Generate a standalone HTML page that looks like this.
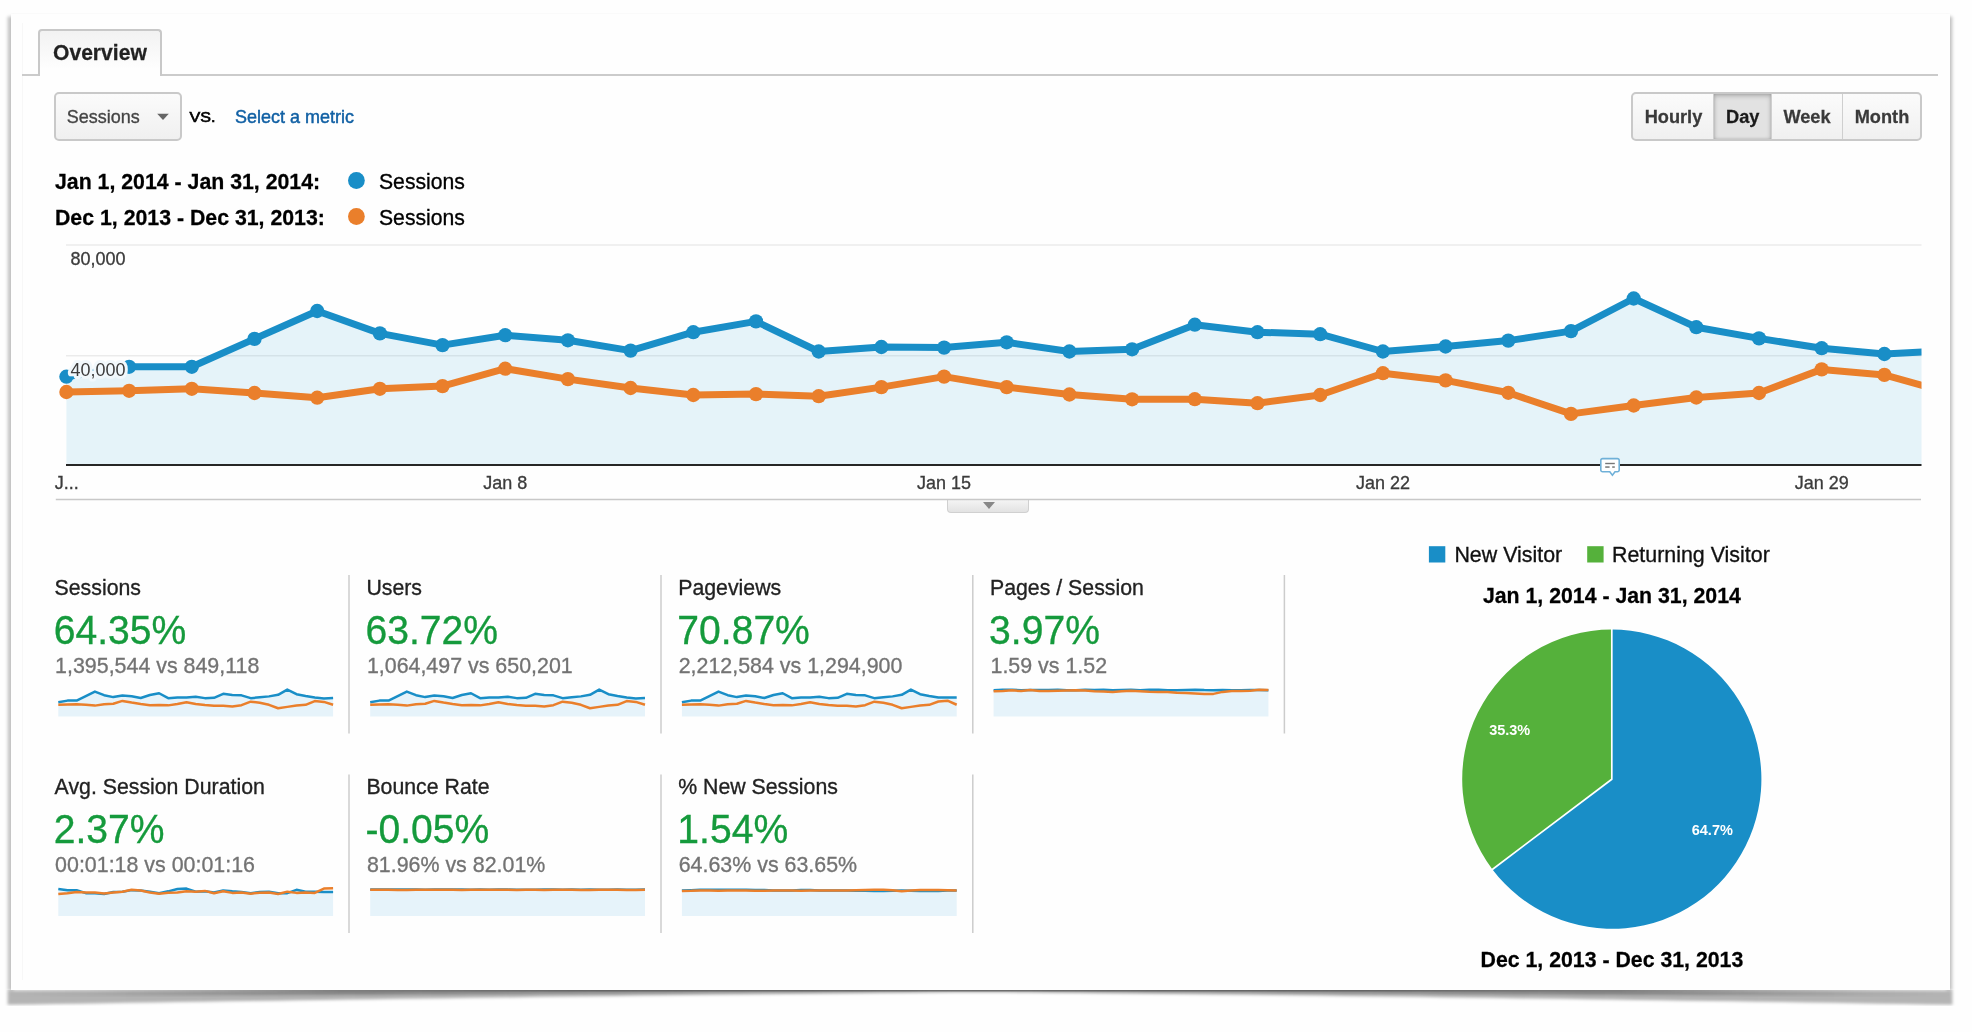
<!DOCTYPE html>
<html><head><meta charset="utf-8"><title>Audience Overview</title>
<style>
html,body{margin:0;padding:0;}
body{width:1972px;height:1032px;background:#fefefe;overflow:hidden;position:relative;font-family:"Liberation Sans",sans-serif;}
.abs{position:absolute;box-sizing:border-box;}
#frame{left:10.5px;top:13.5px;width:1939px;height:976.5px;background:#fefefe;box-shadow:0 0 2px 0 rgba(0,0,0,0.05);}
#inner{left:21.5px;top:23px;width:1917px;height:957px;border-left:1px solid #f7f7f7;}
#tabline{left:22px;top:74.4px;width:1916px;height:2px;background:#cbcbcb;}
#tab{left:37.9px;top:28.8px;width:123.8px;height:47.6px;border:2px solid #c8c8c8;border-bottom:none;border-radius:4px 4px 0 0;background:linear-gradient(#f2f2f2,#fefefe 85%);}
#dd{left:54.4px;top:92.2px;width:127.2px;height:48.9px;border:2px solid #c9c9c9;border-radius:5px;background:linear-gradient(#fbfbfb,#f0f0f0);}
#grp{left:1631px;top:92.2px;width:291.2px;height:48.9px;border:2px solid #c9c9c9;border-radius:5px;background:linear-gradient(#fbfbfb,#f0f0f0);overflow:hidden;}
#grp .sep{position:absolute;top:0;width:1.4px;height:100%;background:#cfcfcf;}
#day{position:absolute;left:80.7px;top:0;width:57.7px;height:100%;background:#e2e2e2;box-shadow:inset 0 2px 5px rgba(0,0,0,0.22), inset 0 0 3px rgba(0,0,0,0.15);}
#tog{left:947.3px;top:499.6px;width:81.6px;height:13px;border:1.3px solid #d0d0d0;border-top:none;border-radius:0 0 4px 4px;background:linear-gradient(#f4f4f4,#e2e2e2);}
#tog:after{content:"";position:absolute;left:34.4px;top:2.4px;border-left:6.3px solid transparent;border-right:6.3px solid transparent;border-top:7px solid #888;}
svg{position:absolute;left:0;top:0;}
#main{will-change:transform;}
svg text{font-family:"Liberation Sans",sans-serif;}
svg text.w{stroke-width:0.35px;}
</style></head>
<body>
<svg width="1972" height="1032" viewBox="0 0 1972 1032" style="position:absolute;left:0;top:0">
<defs>
<linearGradient id="sg" x1="0" x2="1" y1="0" y2="0">
<stop offset="0" stop-color="#000" stop-opacity="0.29"/><stop offset="0.1" stop-color="#000" stop-opacity="0.3"/><stop offset="0.5" stop-color="#000" stop-opacity="0.34"/>
<stop offset="0.9" stop-color="#000" stop-opacity="0.3"/><stop offset="1" stop-color="#000" stop-opacity="0.29"/>
</linearGradient>
<linearGradient id="sg2" x1="0" x2="1" y1="0" y2="0">
<stop offset="0" stop-color="#000" stop-opacity="0"/><stop offset="0.04" stop-color="#000" stop-opacity="0.04"/><stop offset="0.17" stop-color="#000" stop-opacity="0.3"/><stop offset="0.5" stop-color="#000" stop-opacity="0.36"/>
<stop offset="0.83" stop-color="#000" stop-opacity="0.3"/><stop offset="0.96" stop-color="#000" stop-opacity="0.04"/><stop offset="1" stop-color="#000" stop-opacity="0"/>
</linearGradient>
<filter id="sb" x="-1%" y="-1%" width="102%" height="103%"><feGaussianBlur stdDeviation="1.4"/></filter>
<filter id="sb3" x="-1%" y="-200%" width="102%" height="500%"><feGaussianBlur stdDeviation="0.55"/></filter>
<linearGradient id="sg3" x1="0" x2="1" y1="0" y2="0">
<stop offset="0" stop-color="#000" stop-opacity="0"/><stop offset="0.1" stop-color="#000" stop-opacity="0.05"/><stop offset="0.3" stop-color="#000" stop-opacity="0.3"/><stop offset="0.5" stop-color="#000" stop-opacity="0.36"/>
<stop offset="0.7" stop-color="#000" stop-opacity="0.3"/><stop offset="0.9" stop-color="#000" stop-opacity="0.05"/><stop offset="1" stop-color="#000" stop-opacity="0"/>
</linearGradient>
</defs>
<g filter="url(#sb)"><rect x="7.6" y="16.5" width="6" height="974.0" fill="#000" fill-opacity="0.215"/><rect x="1946.4" y="16.5" width="6" height="974.0" fill="#000" fill-opacity="0.215"/></g>
<polygon points="7.6,990.5 1952.4,990.5 1952.4,1004.81 1928.1,1004.41 1903.8,1004.02 1879.5,1003.64 1855.2,1003.25 1830.9,1002.87 1806.5,1002.49 1782.2,1002.11 1757.9,1001.74 1733.6,1001.37 1709.3,1001.00 1685.0,1000.63 1660.7,1000.27 1636.4,999.91 1612.1,999.56 1587.8,999.21 1563.4,998.86 1539.1,998.51 1514.8,998.17 1490.5,997.83 1466.2,997.50 1441.9,997.17 1417.6,996.85 1393.3,996.53 1369.0,996.21 1344.7,995.90 1320.3,995.59 1296.0,995.29 1271.7,995.00 1247.4,994.71 1223.1,994.43 1198.8,994.15 1174.5,993.89 1150.2,993.63 1125.9,993.38 1101.6,993.14 1077.2,992.91 1052.9,992.69 1028.6,992.50 1004.3,992.33 980.0,992.20 955.7,992.33 931.4,992.50 907.1,992.69 882.8,992.91 858.4,993.14 834.1,993.38 809.8,993.63 785.5,993.89 761.2,994.15 736.9,994.43 712.6,994.71 688.3,995.00 664.0,995.29 639.7,995.59 615.3,995.90 591.0,996.21 566.7,996.53 542.4,996.85 518.1,997.17 493.8,997.50 469.5,997.83 445.2,998.17 420.9,998.51 396.6,998.86 372.2,999.21 347.9,999.56 323.6,999.91 299.3,1000.27 275.0,1000.63 250.7,1001.00 226.4,1001.37 202.1,1001.74 177.8,1002.11 153.5,1002.49 129.2,1002.87 104.8,1003.25 80.5,1003.64 56.2,1004.02 31.9,1004.41 7.6,1004.81" fill="url(#sg)" filter="url(#sb)"/>
<rect x="7.6" y="988" width="1944.8000000000002" height="3.5" fill="url(#sg3)" filter="url(#sb3)"/>
<polygon points="17.6,982.0 1942.4,982.0 1952.4,996.66 1928.1,996.49 1903.8,996.31 1879.5,996.14 1855.2,995.96 1830.9,995.79 1806.5,995.62 1782.2,995.45 1757.9,995.28 1733.6,995.12 1709.3,994.95 1685.0,994.79 1660.7,994.62 1636.4,994.46 1612.1,994.30 1587.8,994.14 1563.4,993.99 1539.1,993.83 1514.8,993.68 1490.5,993.53 1466.2,993.38 1441.9,993.23 1417.6,993.08 1393.3,992.94 1369.0,992.79 1344.7,992.65 1320.3,992.52 1296.0,992.38 1271.7,992.25 1247.4,992.12 1223.1,991.99 1198.8,991.87 1174.5,991.75 1150.2,991.63 1125.9,991.52 1101.6,991.41 1077.2,991.31 1052.9,991.21 1028.6,991.12 1004.3,991.05 980.0,990.99 955.7,991.05 931.4,991.12 907.1,991.21 882.8,991.31 858.4,991.41 834.1,991.52 809.8,991.63 785.5,991.75 761.2,991.87 736.9,991.99 712.6,992.12 688.3,992.25 664.0,992.38 639.7,992.52 615.3,992.65 591.0,992.79 566.7,992.94 542.4,993.08 518.1,993.23 493.8,993.38 469.5,993.53 445.2,993.68 420.9,993.83 396.6,993.99 372.2,994.14 347.9,994.30 323.6,994.46 299.3,994.62 275.0,994.79 250.7,994.95 226.4,995.12 202.1,995.28 177.8,995.45 153.5,995.62 129.2,995.79 104.8,995.96 80.5,996.14 56.2,996.31 31.9,996.49 7.6,996.66" fill="url(#sg2)" filter="url(#sb)"/>
</svg>
<div id="frame" class="abs"></div>
<div id="inner" class="abs"></div>
<div id="tabline" class="abs"></div>
<div id="tab" class="abs"></div>
<div id="dd" class="abs"></div>
<div id="grp" class="abs"><div id="day"></div><div class="sep" style="left:80.0px"></div><div class="sep" style="left:137.7px"></div><div class="sep" style="left:209.0px"></div></div>
<div id="tog" class="abs"></div>
<svg id="main" width="1972" height="1032" viewBox="0 0 1972 1032">
<line x1="66" x2="1921.5" y1="245" y2="245" stroke="#ebebeb" stroke-width="1.5"/>
<line x1="66" x2="1921.5" y1="355.8" y2="355.8" stroke="#ebebeb" stroke-width="1.5"/>
<clipPath id="cc"><rect x="59" y="240" width="1862.5" height="230"/></clipPath>
<g clip-path="url(#cc)">
<polygon points="66.4,465.0 66.4,376.7 129.1,366.8 191.8,366.8 254.5,338.9 317.2,311.0 379.9,333.4 442.5,345.1 505.2,335.2 567.9,340.3 630.6,350.6 693.3,332.2 756.0,321.4 818.7,351.5 881.4,347.0 944.1,347.6 1006.7,342.3 1069.4,351.5 1132.1,349.3 1194.8,324.7 1257.5,332.2 1320.2,334.2 1382.9,351.5 1445.6,346.5 1508.3,340.6 1571.0,331.1 1633.7,298.5 1696.3,327.2 1759.0,338.4 1821.7,348.2 1884.4,354.0 1947.1,350.8 1947.1,465.0" fill="#0d8fd0" fill-opacity="0.1"/>
<polyline points="66.4,376.7 129.1,366.8 191.8,366.8 254.5,338.9 317.2,311.0 379.9,333.4 442.5,345.1 505.2,335.2 567.9,340.3 630.6,350.6 693.3,332.2 756.0,321.4 818.7,351.5 881.4,347.0 944.1,347.6 1006.7,342.3 1069.4,351.5 1132.1,349.3 1194.8,324.7 1257.5,332.2 1320.2,334.2 1382.9,351.5 1445.6,346.5 1508.3,340.6 1571.0,331.1 1633.7,298.5 1696.3,327.2 1759.0,338.4 1821.7,348.2 1884.4,354.0 1947.1,350.8" fill="none" stroke="#198ec7" stroke-width="7" stroke-linejoin="round"/>
<circle cx="66.4" cy="376.7" r="7.15" fill="#198ec7"/>
<circle cx="129.1" cy="366.8" r="7.15" fill="#198ec7"/>
<circle cx="191.8" cy="366.8" r="7.15" fill="#198ec7"/>
<circle cx="254.5" cy="338.9" r="7.15" fill="#198ec7"/>
<circle cx="317.2" cy="311.0" r="7.15" fill="#198ec7"/>
<circle cx="379.9" cy="333.4" r="7.15" fill="#198ec7"/>
<circle cx="442.5" cy="345.1" r="7.15" fill="#198ec7"/>
<circle cx="505.2" cy="335.2" r="7.15" fill="#198ec7"/>
<circle cx="567.9" cy="340.3" r="7.15" fill="#198ec7"/>
<circle cx="630.6" cy="350.6" r="7.15" fill="#198ec7"/>
<circle cx="693.3" cy="332.2" r="7.15" fill="#198ec7"/>
<circle cx="756.0" cy="321.4" r="7.15" fill="#198ec7"/>
<circle cx="818.7" cy="351.5" r="7.15" fill="#198ec7"/>
<circle cx="881.4" cy="347.0" r="7.15" fill="#198ec7"/>
<circle cx="944.1" cy="347.6" r="7.15" fill="#198ec7"/>
<circle cx="1006.7" cy="342.3" r="7.15" fill="#198ec7"/>
<circle cx="1069.4" cy="351.5" r="7.15" fill="#198ec7"/>
<circle cx="1132.1" cy="349.3" r="7.15" fill="#198ec7"/>
<circle cx="1194.8" cy="324.7" r="7.15" fill="#198ec7"/>
<circle cx="1257.5" cy="332.2" r="7.15" fill="#198ec7"/>
<circle cx="1320.2" cy="334.2" r="7.15" fill="#198ec7"/>
<circle cx="1382.9" cy="351.5" r="7.15" fill="#198ec7"/>
<circle cx="1445.6" cy="346.5" r="7.15" fill="#198ec7"/>
<circle cx="1508.3" cy="340.6" r="7.15" fill="#198ec7"/>
<circle cx="1571.0" cy="331.1" r="7.15" fill="#198ec7"/>
<circle cx="1633.7" cy="298.5" r="7.15" fill="#198ec7"/>
<circle cx="1696.3" cy="327.2" r="7.15" fill="#198ec7"/>
<circle cx="1759.0" cy="338.4" r="7.15" fill="#198ec7"/>
<circle cx="1821.7" cy="348.2" r="7.15" fill="#198ec7"/>
<circle cx="1884.4" cy="354.0" r="7.15" fill="#198ec7"/>
<circle cx="1947.1" cy="350.8" r="7.15" fill="#198ec7"/>
<polyline points="66.4,392.0 129.1,390.8 191.8,388.8 254.5,393.0 317.2,397.7 379.9,388.8 442.5,386.1 505.2,368.7 567.9,379.1 630.6,388.0 693.3,395.0 756.0,394.1 818.7,396.2 881.4,387.1 944.1,376.6 1006.7,387.1 1069.4,394.5 1132.1,399.3 1194.8,399.2 1257.5,403.2 1320.2,395.0 1382.9,373.2 1445.6,380.4 1508.3,392.8 1571.0,413.9 1633.7,405.5 1696.3,397.5 1759.0,393.0 1821.7,369.4 1884.4,374.9 1947.1,392.4" fill="none" stroke="#ea7f2b" stroke-width="7" stroke-linejoin="round"/>
<circle cx="66.4" cy="392.0" r="7.15" fill="#ea7f2b"/>
<circle cx="129.1" cy="390.8" r="7.15" fill="#ea7f2b"/>
<circle cx="191.8" cy="388.8" r="7.15" fill="#ea7f2b"/>
<circle cx="254.5" cy="393.0" r="7.15" fill="#ea7f2b"/>
<circle cx="317.2" cy="397.7" r="7.15" fill="#ea7f2b"/>
<circle cx="379.9" cy="388.8" r="7.15" fill="#ea7f2b"/>
<circle cx="442.5" cy="386.1" r="7.15" fill="#ea7f2b"/>
<circle cx="505.2" cy="368.7" r="7.15" fill="#ea7f2b"/>
<circle cx="567.9" cy="379.1" r="7.15" fill="#ea7f2b"/>
<circle cx="630.6" cy="388.0" r="7.15" fill="#ea7f2b"/>
<circle cx="693.3" cy="395.0" r="7.15" fill="#ea7f2b"/>
<circle cx="756.0" cy="394.1" r="7.15" fill="#ea7f2b"/>
<circle cx="818.7" cy="396.2" r="7.15" fill="#ea7f2b"/>
<circle cx="881.4" cy="387.1" r="7.15" fill="#ea7f2b"/>
<circle cx="944.1" cy="376.6" r="7.15" fill="#ea7f2b"/>
<circle cx="1006.7" cy="387.1" r="7.15" fill="#ea7f2b"/>
<circle cx="1069.4" cy="394.5" r="7.15" fill="#ea7f2b"/>
<circle cx="1132.1" cy="399.3" r="7.15" fill="#ea7f2b"/>
<circle cx="1194.8" cy="399.2" r="7.15" fill="#ea7f2b"/>
<circle cx="1257.5" cy="403.2" r="7.15" fill="#ea7f2b"/>
<circle cx="1320.2" cy="395.0" r="7.15" fill="#ea7f2b"/>
<circle cx="1382.9" cy="373.2" r="7.15" fill="#ea7f2b"/>
<circle cx="1445.6" cy="380.4" r="7.15" fill="#ea7f2b"/>
<circle cx="1508.3" cy="392.8" r="7.15" fill="#ea7f2b"/>
<circle cx="1571.0" cy="413.9" r="7.15" fill="#ea7f2b"/>
<circle cx="1633.7" cy="405.5" r="7.15" fill="#ea7f2b"/>
<circle cx="1696.3" cy="397.5" r="7.15" fill="#ea7f2b"/>
<circle cx="1759.0" cy="393.0" r="7.15" fill="#ea7f2b"/>
<circle cx="1821.7" cy="369.4" r="7.15" fill="#ea7f2b"/>
<circle cx="1884.4" cy="374.9" r="7.15" fill="#ea7f2b"/>
<circle cx="1947.1" cy="392.4" r="7.15" fill="#ea7f2b"/>
</g>
<line x1="66" x2="1921.5" y1="465" y2="465" stroke="#262626" stroke-width="2"/>
<text x="70.6" y="265.1" font-size="18" fill="#3c3c3c" stroke="#3c3c3c" stroke-width="0.32" transform="matrix(1,0,0,1.04,0,-10.604)">80,000</text>
<text x="70.6" y="375.6" font-size="18" fill="#3c3c3c" stroke="#f1f8fc" stroke-width="6" stroke-linejoin="round" paint-order="stroke" transform="matrix(1,0,0,1.04,0,-15.024)">40,000</text>
<text x="54.8" y="489" font-size="18" fill="#3c3c3c" stroke="#3c3c3c" stroke-width="0.32" transform="matrix(1,0,0,1.04,0,-19.560)">J...</text>
<text x="505.2" y="489" font-size="18" fill="#3c3c3c" text-anchor="middle" stroke="#3c3c3c" stroke-width="0.32" transform="matrix(1,0,0,1.04,0,-19.560)">Jan 8</text>
<text x="944.1" y="489" font-size="18" fill="#3c3c3c" text-anchor="middle" stroke="#3c3c3c" stroke-width="0.32" transform="matrix(1,0,0,1.04,0,-19.560)">Jan 15</text>
<text x="1382.9" y="489" font-size="18" fill="#3c3c3c" text-anchor="middle" stroke="#3c3c3c" stroke-width="0.32" transform="matrix(1,0,0,1.04,0,-19.560)">Jan 22</text>
<text x="1821.7" y="489" font-size="18" fill="#3c3c3c" text-anchor="middle" stroke="#3c3c3c" stroke-width="0.32" transform="matrix(1,0,0,1.04,0,-19.560)">Jan 29</text>
<line x1="55.8" x2="1921" y1="499.6" y2="499.6" stroke="#c8c8c8" stroke-width="1.5"/>
<path d="M1602.6,458.6 h14.8 a1.8,1.8 0 0 1 1.8,1.8 v9.6 a1.8,1.8 0 0 1 -1.8,1.8 h-2.4 l-2.6,3.4 l-2.6,-3.4 h-7.2 a1.8,1.8 0 0 1 -1.8,-1.8 v-9.6 a1.8,1.8 0 0 1 1.8,-1.8 z" fill="#fff" stroke="#6fb0d8" stroke-width="1.6"/>
<rect x="1605.2" y="462.8" width="9.6" height="1.4" fill="#777"/>
<rect x="1605.2" y="466.3" width="4.4" height="1.5" fill="#777"/>
<rect x="1612.2" y="466.3" width="2.6" height="1.5" fill="#777"/>
<text x="55.0" y="188.8" font-size="21.3" font-weight="bold" fill="#000" stroke="#000" stroke-width="0.25" transform="matrix(1,0,0,1.04,0,-7.552)">Jan 1, 2014 - Jan 31, 2014:</text>
<text x="55.0" y="225.1" font-size="21.3" font-weight="bold" fill="#000" stroke="#000" stroke-width="0.25" transform="matrix(1,0,0,1.04,0,-9.004)">Dec 1, 2013 - Dec 31, 2013:</text>
<circle cx="356.4" cy="180.5" r="8.4" fill="#198ec7"/>
<circle cx="356.4" cy="216.5" r="8.4" fill="#ea7f2b"/>
<text x="379.0" y="188.8" font-size="21.2" fill="#000" stroke="#000" stroke-width="0.32" transform="matrix(1,0,0,1.04,0,-7.552)">Sessions</text>
<text x="379.0" y="225.1" font-size="21.2" fill="#000" stroke="#000" stroke-width="0.32" transform="matrix(1,0,0,1.04,0,-9.004)">Sessions</text>
<text x="53.0" y="59.7" font-size="21.1" font-weight="bold" fill="#222" stroke="#222" stroke-width="0.25" transform="matrix(1,0,0,1.04,0,-2.388)">Overview</text>
<text x="66.8" y="122.7" font-size="18" fill="#444" stroke="#444" stroke-width="0.32" transform="matrix(1,0,0,1.04,0,-4.908)">Sessions</text>
<path d="M157.2,113.8 h11.6 l-5.8,6.2 z" fill="#666"/>
<text x="189.6" y="121.8" font-size="16.1" fill="#000" stroke="#000" stroke-width="0.7" transform="matrix(1,0,0,0.965,0,4.0)">VS.</text>
<text x="235" y="122.8" font-size="18" fill="#1160a4" stroke="#1160a4" stroke-width="0.45" transform="matrix(1,0,0,1.04,0,-4.912)">Select a metric</text>
<text x="1673.5" y="123.4" font-size="18.2" font-weight="bold" fill="#3a3a3a" text-anchor="middle" stroke="#3a3a3a" stroke-width="0.25" transform="matrix(1,0,0,1.04,0,-4.936)">Hourly</text>
<text x="1742.8" y="123.4" font-size="18.2" font-weight="bold" fill="#1a1a1a" text-anchor="middle" stroke="#1a1a1a" stroke-width="0.25" transform="matrix(1,0,0,1.04,0,-4.936)">Day</text>
<text x="1807" y="123.4" font-size="18.2" font-weight="bold" fill="#3a3a3a" text-anchor="middle" stroke="#3a3a3a" stroke-width="0.25" transform="matrix(1,0,0,1.04,0,-4.936)">Week</text>
<text x="1882" y="123.4" font-size="18.2" font-weight="bold" fill="#3a3a3a" text-anchor="middle" stroke="#3a3a3a" stroke-width="0.25" transform="matrix(1,0,0,1.04,0,-4.936)">Month</text>
<text x="54.6" y="594.6" font-size="21.3" fill="#222" stroke="#222" stroke-width="0.32" transform="matrix(1,0,0,1.04,0,-23.784)">Sessions</text>
<text transform="translate(53.7,644.1) scale(1,1.05)" x="0" y="0" font-size="39.1" fill="#159a3c" stroke="#159a3c" stroke-width="0.32">64.35%</text>
<text x="55.1" y="673.0" font-size="21.4" fill="#737373" stroke="#737373" stroke-width="0.32" transform="matrix(1,0,0,1.04,0,-26.920)">1,395,544 vs 849,118</text>
<text x="366.4" y="594.6" font-size="21.3" fill="#222" stroke="#222" stroke-width="0.32" transform="matrix(1,0,0,1.04,0,-23.784)">Users</text>
<text transform="translate(365.5,644.1) scale(1,1.05)" x="0" y="0" font-size="39.1" fill="#159a3c" stroke="#159a3c" stroke-width="0.32">63.72%</text>
<text x="366.9" y="673.0" font-size="21.4" fill="#737373" stroke="#737373" stroke-width="0.32" transform="matrix(1,0,0,1.04,0,-26.920)">1,064,497 vs 650,201</text>
<text x="678.2" y="594.6" font-size="21.3" fill="#222" stroke="#222" stroke-width="0.32" transform="matrix(1,0,0,1.04,0,-23.784)">Pageviews</text>
<text transform="translate(677.3,644.1) scale(1,1.05)" x="0" y="0" font-size="39.1" fill="#159a3c" stroke="#159a3c" stroke-width="0.32">70.87%</text>
<text x="678.7" y="673.0" font-size="21.4" fill="#737373" stroke="#737373" stroke-width="0.32" transform="matrix(1,0,0,1.04,0,-26.920)">2,212,584 vs 1,294,900</text>
<text x="990.0" y="594.6" font-size="21.3" fill="#222" stroke="#222" stroke-width="0.32" transform="matrix(1,0,0,1.04,0,-23.784)">Pages / Session</text>
<text transform="translate(989.1,644.1) scale(1,1.05)" x="0" y="0" font-size="39.1" fill="#159a3c" stroke="#159a3c" stroke-width="0.32">3.97%</text>
<text x="990.5" y="673.0" font-size="21.4" fill="#737373" stroke="#737373" stroke-width="0.32" transform="matrix(1,0,0,1.04,0,-26.920)">1.59 vs 1.52</text>
<text x="54.6" y="793.8" font-size="21.3" fill="#222" stroke="#222" stroke-width="0.32" transform="matrix(1,0,0,1.04,0,-31.752)">Avg. Session Duration</text>
<text transform="translate(53.7,843.3) scale(1,1.05)" x="0" y="0" font-size="39.1" fill="#159a3c" stroke="#159a3c" stroke-width="0.32">2.37%</text>
<text x="55.1" y="872.2" font-size="21.4" fill="#737373" stroke="#737373" stroke-width="0.32" transform="matrix(1,0,0,1.04,0,-34.888)">00:01:18 vs 00:01:16</text>
<text x="366.4" y="793.8" font-size="21.3" fill="#222" stroke="#222" stroke-width="0.32" transform="matrix(1,0,0,1.04,0,-31.752)">Bounce Rate</text>
<text transform="translate(365.5,843.3) scale(1,1.05)" x="0" y="0" font-size="39.1" fill="#159a3c" stroke="#159a3c" stroke-width="0.32">-0.05%</text>
<text x="366.9" y="872.2" font-size="21.4" fill="#737373" stroke="#737373" stroke-width="0.32" transform="matrix(1,0,0,1.04,0,-34.888)">81.96% vs 82.01%</text>
<text x="678.2" y="793.8" font-size="21.3" fill="#222" stroke="#222" stroke-width="0.32" transform="matrix(1,0,0,1.04,0,-31.752)">% New Sessions</text>
<text transform="translate(677.3,843.3) scale(1,1.05)" x="0" y="0" font-size="39.1" fill="#159a3c" stroke="#159a3c" stroke-width="0.32">1.54%</text>
<text x="678.7" y="872.2" font-size="21.4" fill="#737373" stroke="#737373" stroke-width="0.32" transform="matrix(1,0,0,1.04,0,-34.888)">64.63% vs 63.65%</text>
<line x1="349.0" x2="349.0" y1="575" y2="733.5" stroke="#ccc" stroke-width="1.5"/>
<line x1="661.0" x2="661.0" y1="575" y2="733.5" stroke="#ccc" stroke-width="1.5"/>
<line x1="972.8" x2="972.8" y1="575" y2="733.5" stroke="#ccc" stroke-width="1.5"/>
<line x1="1284.4" x2="1284.4" y1="575" y2="733.5" stroke="#ccc" stroke-width="1.5"/>
<line x1="349.0" x2="349.0" y1="774.5" y2="933" stroke="#ccc" stroke-width="1.5"/>
<line x1="661.0" x2="661.0" y1="774.5" y2="933" stroke="#ccc" stroke-width="1.5"/>
<line x1="972.8" x2="972.8" y1="774.5" y2="933" stroke="#ccc" stroke-width="1.5"/>
<polygon points="58.3,716.5 58.3,702.21 67.5,700.61 76.6,700.61 85.8,696.10 94.9,691.58 104.1,695.21 113.3,697.10 122.4,695.50 131.6,696.32 140.7,697.99 149.9,695.01 159.1,693.27 168.2,698.14 177.4,697.41 186.5,697.50 195.7,696.65 204.9,698.14 214.0,697.78 223.2,693.80 232.3,695.01 241.5,695.34 250.7,698.14 259.8,697.33 269.0,696.37 278.1,694.83 287.3,689.56 296.5,694.20 305.6,696.02 314.8,697.60 323.9,698.54 333.1,698.02 333.1,716.5" fill="#e6f3fa"/>
<polyline points="58.3,702.21 67.5,700.61 76.6,700.61 85.8,696.10 94.9,691.58 104.1,695.21 113.3,697.10 122.4,695.50 131.6,696.32 140.7,697.99 149.9,695.01 159.1,693.27 168.2,698.14 177.4,697.41 186.5,697.50 195.7,696.65 204.9,698.14 214.0,697.78 223.2,693.80 232.3,695.01 241.5,695.34 250.7,698.14 259.8,697.33 269.0,696.37 278.1,694.83 287.3,689.56 296.5,694.20 305.6,696.02 314.8,697.60 323.9,698.54 333.1,698.02" fill="none" stroke="#198ec7" stroke-width="2.5" stroke-linejoin="round" stroke-linecap="butt"/>
<polyline points="58.3,704.69 67.5,704.49 76.6,704.17 85.8,704.85 94.9,705.61 104.1,704.17 113.3,703.73 122.4,700.92 131.6,702.60 140.7,704.04 149.9,705.17 159.1,705.03 168.2,705.37 177.4,703.90 186.5,702.20 195.7,703.90 204.9,705.09 214.0,705.87 223.2,705.85 232.3,706.50 241.5,705.17 250.7,701.65 259.8,702.81 269.0,704.82 278.1,708.23 287.3,706.87 296.5,705.58 305.6,704.85 314.8,701.03 323.9,701.92 333.1,704.75" fill="none" stroke="#ea7f2b" stroke-width="2.5" stroke-linejoin="round" stroke-linecap="butt"/>

<polygon points="370.2,716.5 370.2,702.21 379.4,700.61 388.5,700.61 397.7,696.10 406.8,691.58 416.0,695.21 425.2,697.10 434.3,695.50 443.5,696.32 452.6,697.99 461.8,695.01 471.0,693.27 480.1,698.14 489.3,697.41 498.4,697.50 507.6,696.65 516.8,698.14 525.9,697.78 535.1,693.80 544.2,695.01 553.4,695.34 562.6,698.14 571.7,697.33 580.9,696.37 590.0,694.83 599.2,689.56 608.4,694.20 617.5,696.02 626.7,697.60 635.8,698.54 645.0,698.02 645.0,716.5" fill="#e6f3fa"/>
<polyline points="370.2,702.21 379.4,700.61 388.5,700.61 397.7,696.10 406.8,691.58 416.0,695.21 425.2,697.10 434.3,695.50 443.5,696.32 452.6,697.99 461.8,695.01 471.0,693.27 480.1,698.14 489.3,697.41 498.4,697.50 507.6,696.65 516.8,698.14 525.9,697.78 535.1,693.80 544.2,695.01 553.4,695.34 562.6,698.14 571.7,697.33 580.9,696.37 590.0,694.83 599.2,689.56 608.4,694.20 617.5,696.02 626.7,697.60 635.8,698.54 645.0,698.02" fill="none" stroke="#198ec7" stroke-width="2.5" stroke-linejoin="round" stroke-linecap="butt"/>
<polyline points="370.2,704.69 379.4,704.49 388.5,704.17 397.7,704.85 406.8,705.61 416.0,704.17 425.2,703.73 434.3,700.92 443.5,702.60 452.6,704.04 461.8,705.17 471.0,705.03 480.1,705.37 489.3,703.90 498.4,702.20 507.6,703.90 516.8,705.09 525.9,705.87 535.1,705.85 544.2,706.50 553.4,705.17 562.6,701.65 571.7,702.81 580.9,704.82 590.0,708.23 599.2,706.87 608.4,705.58 617.5,704.85 626.7,701.03 635.8,701.92 645.0,704.75" fill="none" stroke="#ea7f2b" stroke-width="2.5" stroke-linejoin="round" stroke-linecap="butt"/>

<polygon points="681.9,716.5 681.9,702.21 691.1,700.61 700.2,700.61 709.4,696.10 718.5,691.58 727.7,695.21 736.9,697.10 746.0,695.50 755.2,696.32 764.3,697.99 773.5,695.01 782.7,693.27 791.8,698.14 801.0,697.41 810.1,697.50 819.3,696.65 828.5,698.14 837.6,697.78 846.8,693.80 855.9,695.01 865.1,695.34 874.3,698.14 883.4,697.33 892.6,696.37 901.7,694.83 910.9,689.56 920.1,694.20 929.2,696.02 938.4,697.60 947.5,697.54 956.7,697.42 956.7,716.5" fill="#e6f3fa"/>
<polyline points="681.9,702.21 691.1,700.61 700.2,700.61 709.4,696.10 718.5,691.58 727.7,695.21 736.9,697.10 746.0,695.50 755.2,696.32 764.3,697.99 773.5,695.01 782.7,693.27 791.8,698.14 801.0,697.41 810.1,697.50 819.3,696.65 828.5,698.14 837.6,697.78 846.8,693.80 855.9,695.01 865.1,695.34 874.3,698.14 883.4,697.33 892.6,696.37 901.7,694.83 910.9,689.56 920.1,694.20 929.2,696.02 938.4,697.60 947.5,697.54 956.7,697.42" fill="none" stroke="#198ec7" stroke-width="2.5" stroke-linejoin="round" stroke-linecap="butt"/>
<polyline points="681.9,704.69 691.1,704.49 700.2,704.17 709.4,704.85 718.5,705.61 727.7,704.17 736.9,703.73 746.0,700.92 755.2,702.60 764.3,704.04 773.5,705.17 782.7,705.03 791.8,705.37 801.0,703.90 810.1,702.20 819.3,703.90 828.5,705.09 837.6,705.87 846.8,705.85 855.9,706.50 865.1,705.17 874.3,701.65 883.4,702.81 892.6,704.82 901.7,708.23 910.9,706.87 920.1,705.58 929.2,704.85 938.4,701.53 947.5,700.72 956.7,704.75" fill="none" stroke="#ea7f2b" stroke-width="2.5" stroke-linejoin="round" stroke-linecap="butt"/>

<polygon points="993.6,716.5 993.6,690.22 1002.8,689.79 1011.9,689.84 1021.1,690.15 1030.2,690.00 1039.4,690.03 1048.6,689.91 1057.7,689.83 1066.9,690.24 1076.0,690.28 1085.2,689.80 1094.4,690.04 1103.5,689.84 1112.7,690.30 1121.8,690.03 1131.0,689.87 1140.2,690.16 1149.3,689.73 1158.5,689.76 1167.6,690.28 1176.8,690.28 1186.0,689.98 1195.1,689.74 1204.3,690.07 1213.4,690.17 1222.6,690.05 1231.8,690.28 1240.9,690.17 1250.1,690.04 1259.2,690.00 1268.4,690.16 1268.4,716.5" fill="#e6f3fa"/>
<polyline points="993.6,690.22 1002.8,689.79 1011.9,689.84 1021.1,690.15 1030.2,690.00 1039.4,690.03 1048.6,689.91 1057.7,689.83 1066.9,690.24 1076.0,690.28 1085.2,689.80 1094.4,690.04 1103.5,689.84 1112.7,690.30 1121.8,690.03 1131.0,689.87 1140.2,690.16 1149.3,689.73 1158.5,689.76 1167.6,690.28 1176.8,690.28 1186.0,689.98 1195.1,689.74 1204.3,690.07 1213.4,690.17 1222.6,690.05 1231.8,690.28 1240.9,690.17 1250.1,690.04 1259.2,690.00 1268.4,690.16" fill="none" stroke="#198ec7" stroke-width="2.5" stroke-linejoin="round" stroke-linecap="butt"/>
<polyline points="993.6,691.30 1002.8,690.90 1011.9,690.30 1021.1,691.10 1030.2,690.10 1039.4,691.00 1048.6,690.90 1057.7,690.70 1066.9,690.50 1076.0,690.30 1085.2,690.50 1094.4,691.30 1103.5,691.50 1112.7,691.90 1121.8,691.30 1131.0,690.70 1140.2,691.30 1149.3,691.70 1158.5,691.90 1167.6,691.90 1176.8,692.70 1186.0,693.10 1195.1,693.50 1204.3,693.90 1213.4,693.90 1222.6,691.90 1231.8,691.10 1240.9,690.90 1250.1,690.70 1259.2,689.70 1268.4,689.90" fill="none" stroke="#ea7f2b" stroke-width="2.5" stroke-linejoin="round" stroke-linecap="butt"/>

<polygon points="58.3,916.0 58.3,888.92 67.5,890.14 76.6,890.14 85.8,893.18 94.9,893.18 104.1,893.94 113.3,891.96 122.4,891.66 131.6,890.14 140.7,890.44 149.9,891.66 159.1,893.18 168.2,891.35 177.4,888.92 186.5,888.62 195.7,891.66 204.9,891.35 214.0,892.42 223.2,890.44 232.3,891.35 241.5,891.96 250.7,893.18 259.8,891.96 269.0,891.66 278.1,893.18 287.3,893.18 296.5,889.83 305.6,891.66 314.8,891.66 323.9,891.96 333.1,891.96 333.1,916.0" fill="#e6f3fa"/>
<polyline points="58.3,888.92 67.5,890.14 76.6,890.14 85.8,893.18 94.9,893.18 104.1,893.94 113.3,891.96 122.4,891.66 131.6,890.14 140.7,890.44 149.9,891.66 159.1,893.18 168.2,891.35 177.4,888.92 186.5,888.62 195.7,891.66 204.9,891.35 214.0,892.42 223.2,890.44 232.3,891.35 241.5,891.96 250.7,893.18 259.8,891.96 269.0,891.66 278.1,893.18 287.3,893.18 296.5,889.83 305.6,891.66 314.8,891.66 323.9,891.96 333.1,891.96" fill="none" stroke="#198ec7" stroke-width="2.5" stroke-linejoin="round" stroke-linecap="butt"/>
<polyline points="58.3,893.94 67.5,893.18 76.6,891.96 85.8,892.42 94.9,892.42 104.1,893.48 113.3,892.42 122.4,891.66 131.6,889.83 140.7,890.44 149.9,892.42 159.1,893.64 168.2,892.72 177.4,892.42 186.5,891.35 195.7,891.66 204.9,890.90 214.0,893.18 223.2,891.35 232.3,892.88 241.5,892.42 250.7,893.64 259.8,892.72 269.0,892.42 278.1,893.94 287.3,891.66 296.5,892.88 305.6,892.42 314.8,892.88 323.9,888.62 333.1,888.31" fill="none" stroke="#ea7f2b" stroke-width="2.5" stroke-linejoin="round" stroke-linecap="butt"/>

<polygon points="370.2,916.0 370.2,889.55 379.4,889.50 388.5,889.48 397.7,889.42 406.8,889.50 416.0,889.43 425.2,889.79 434.3,889.61 443.5,889.42 452.6,889.54 461.8,889.44 471.0,889.75 480.1,889.61 489.3,889.70 498.4,889.58 507.6,889.57 516.8,889.79 525.9,889.71 535.1,889.69 544.2,889.43 553.4,889.49 562.6,889.74 571.7,889.48 580.9,889.74 590.0,889.55 599.2,889.75 608.4,889.80 617.5,889.45 626.7,889.72 635.8,889.71 645.0,889.41 645.0,916.0" fill="#e6f3fa"/>
<polyline points="370.2,889.55 379.4,889.50 388.5,889.48 397.7,889.42 406.8,889.50 416.0,889.43 425.2,889.79 434.3,889.61 443.5,889.42 452.6,889.54 461.8,889.44 471.0,889.75 480.1,889.61 489.3,889.70 498.4,889.58 507.6,889.57 516.8,889.79 525.9,889.71 535.1,889.69 544.2,889.43 553.4,889.49 562.6,889.74 571.7,889.48 580.9,889.74 590.0,889.55 599.2,889.75 608.4,889.80 617.5,889.45 626.7,889.72 635.8,889.71 645.0,889.41" fill="none" stroke="#198ec7" stroke-width="2.5" stroke-linejoin="round" stroke-linecap="butt"/>
<polyline points="370.2,889.65 379.4,889.64 388.5,889.81 397.7,889.92 406.8,890.05 416.0,889.72 425.2,889.81 434.3,889.67 443.5,889.86 452.6,889.66 461.8,889.91 471.0,889.65 480.1,889.69 489.3,889.84 498.4,889.78 507.6,889.71 516.8,889.95 525.9,889.77 535.1,889.65 544.2,889.92 553.4,889.65 562.6,889.71 571.7,889.63 580.9,889.88 590.0,890.00 599.2,889.65 608.4,889.65 617.5,889.83 626.7,890.00 635.8,889.95 645.0,889.73" fill="none" stroke="#ea7f2b" stroke-width="2.5" stroke-linejoin="round" stroke-linecap="butt"/>

<polygon points="681.9,916.0 681.9,890.60 691.1,890.20 700.2,889.80 709.4,889.70 718.5,889.70 727.7,889.80 736.9,889.70 746.0,889.80 755.2,889.90 764.3,890.10 773.5,890.40 782.7,890.50 791.8,890.50 801.0,890.10 810.1,890.00 819.3,890.40 828.5,890.50 837.6,890.50 846.8,890.60 855.9,890.70 865.1,890.80 874.3,891.00 883.4,891.10 892.6,890.80 901.7,890.40 910.9,890.80 920.1,891.00 929.2,891.10 938.4,890.90 947.5,890.60 956.7,890.50 956.7,916.0" fill="#e6f3fa"/>
<polyline points="681.9,890.60 691.1,890.20 700.2,889.80 709.4,889.70 718.5,889.70 727.7,889.80 736.9,889.70 746.0,889.80 755.2,889.90 764.3,890.10 773.5,890.40 782.7,890.50 791.8,890.50 801.0,890.10 810.1,890.00 819.3,890.40 828.5,890.50 837.6,890.50 846.8,890.60 855.9,890.70 865.1,890.80 874.3,891.00 883.4,891.10 892.6,890.80 901.7,890.40 910.9,890.80 920.1,891.00 929.2,891.10 938.4,890.90 947.5,890.60 956.7,890.50" fill="none" stroke="#198ec7" stroke-width="2.5" stroke-linejoin="round" stroke-linecap="butt"/>
<polyline points="681.9,891.00 691.1,890.80 700.2,890.40 709.4,890.60 718.5,890.70 727.7,890.50 736.9,890.60 746.0,890.50 755.2,890.70 764.3,890.80 773.5,890.60 782.7,890.50 791.8,890.60 801.0,890.70 810.1,890.60 819.3,890.50 828.5,890.60 837.6,890.50 846.8,890.40 855.9,890.30 865.1,890.10 874.3,889.80 883.4,889.80 892.6,890.20 901.7,891.30 910.9,890.40 920.1,889.90 929.2,889.90 938.4,890.00 947.5,890.20 956.7,890.50" fill="none" stroke="#ea7f2b" stroke-width="2.5" stroke-linejoin="round" stroke-linecap="butt"/>

<path d="M1611.8,779.2 L1611.8,629.6 A149.6,149.6 0 1 1 1492.45,869.40 Z" fill="#198ec7"/>
<path d="M1611.8,779.2 L1492.45,869.40 A149.6,149.6 0 0 1 1611.8,629.6 Z" fill="#55b13b"/>
<path d="M1611.8,628.6 L1611.8,779.2 L1491.65,870.00" fill="none" stroke="#fff" stroke-width="1.7" stroke-linejoin="round"/>
<text x="1509.7" y="735" font-size="14.5" font-weight="bold" fill="#fff" text-anchor="middle" transform="matrix(1,0,0,1.04,0,-29.400)">35.3%</text>
<text x="1712.3" y="835.3" font-size="14.5" font-weight="bold" fill="#fff" text-anchor="middle" transform="matrix(1,0,0,1.04,0,-33.412)">64.7%</text>
<rect x="1428.9" y="546.2" width="16.4" height="16.3" fill="#198ec7"/>
<rect x="1587.2" y="546.2" width="16.4" height="16.3" fill="#55b13b"/>
<text x="1454.4" y="562" font-size="21.4" fill="#111" stroke="#111" stroke-width="0.32" transform="matrix(1,0,0,1.04,0,-22.480)">New Visitor</text>
<text x="1612.0" y="562" font-size="21.4" fill="#111" stroke="#111" stroke-width="0.32" transform="matrix(1,0,0,1.04,0,-22.480)">Returning Visitor</text>
<text x="1611.9" y="603" font-size="21.3" font-weight="bold" fill="#000" text-anchor="middle" stroke="#000" stroke-width="0.25" transform="matrix(1,0,0,1.04,0,-24.120)">Jan 1, 2014 - Jan 31, 2014</text>
<text x="1611.9" y="967" font-size="21.3" font-weight="bold" fill="#000" text-anchor="middle" stroke="#000" stroke-width="0.25" transform="matrix(1,0,0,1.04,0,-38.680)">Dec 1, 2013 - Dec 31, 2013</text>
</svg>
</body></html>
